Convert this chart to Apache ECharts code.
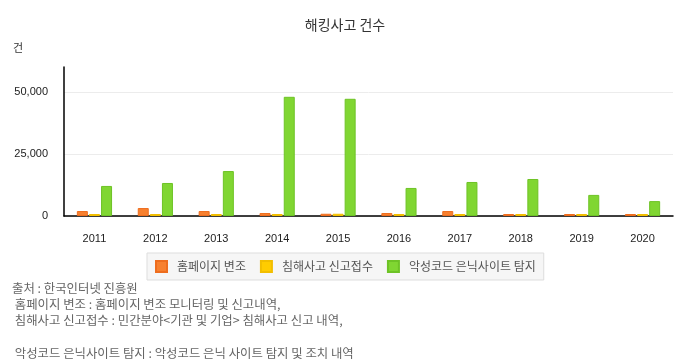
<!DOCTYPE html>
<html><head><meta charset="utf-8">
<script src="https://cdn.jsdelivr.net/npm/echarts@6/dist/echarts.min.js"></script>
<style>html,body{margin:0;padding:0;background:#fff}#c{width:690px;height:360px}</style>
</head><body><div id="c"></div>
<script>
const categories = ['2011','2012','2013','2014','2015','2016','2017','2018','2019','2020'];
const seriesNames = ['홈페이지 변조','침해사고 신고접수','악성코드 은닉사이트 탐지'];
const defacement = [2000, 3200, 2000, 1200, 900, 1200, 2000, 800, 800, 800];
const incidents = [800, 800, 800, 800, 900, 800, 800, 800, 800, 800];
const malware = [12100, 13300, 18100, 48000, 47200, 11300, 13700, 14900, 8500, 6000];
const yTicks = [0, 25000, 50000];
const footLines = ['출처 : 한국인터넷 진흥원',' 홈페이지 변조 : 홈페이지 변조 모니터링 및 신고내역,',' 침해사고 신고접수 : 민간분야<기관 및 기업> 침해사고 신고 내역,','',' 악성코드 은닉사이트 탐지 : 악성코드 은닉 사이트 탐지 및 조치 내역'];

const FONT = '"Noto Sans CJK KR", "Noto Sans", sans-serif';
const chart = echarts.init(document.getElementById('c'));
const colors = [['#f7802f','#ee6d1e'],['#ffcc00','#f2be00'],['#80d632','#6ec326']];
const data = [defacement, incidents, malware];
chart.setOption({
  animation:false,
  textStyle:{fontFamily:FONT},
  title:{text:'해킹사고 건수',left:'center',top:13,textStyle:{fontSize:14,fontWeight:'normal',color:'#333',fontFamily:FONT}},
  grid:{left:64,right:17,top:67,bottom:144},
  legend:{bottom:80,left:147,itemWidth:11,itemHeight:11,itemGap:14,padding:[7,8,7,8],
    backgroundColor:'#f6f6f6',borderColor:'#dddddd',borderWidth:1,
    icon:'rect',
    textStyle:{fontSize:12,color:'#555',fontFamily:FONT,padding:[0,0,0,5]},
    data:seriesNames},
  xAxis:{type:'category',data:categories,
    axisLine:{lineStyle:{color:'#000',width:1.5}},axisTick:{show:false},
    axisLabel:{color:'#222',fontSize:11,margin:17,fontFamily:'Arial, "Liberation Sans", sans-serif'}},
  yAxis:{type:'value',min:0,max:60000,interval:25000,name:'건',
    nameLocation:'end',nameGap:14,nameTextStyle:{color:'#333',fontSize:11,align:'right',padding:[0,41,0,0]},
    axisLine:{show:true,lineStyle:{color:'#000',width:1.5}},axisTick:{show:false},
    splitLine:{show:true,showMaxLine:false,lineStyle:{color:'#ececec'}},
    axisLabel:{showMaxLabel:false,color:'#222',fontSize:11,margin:16,fontFamily:'Arial, "Liberation Sans", sans-serif',
      formatter:v=>yTicks.includes(v)?v.toLocaleString('en-US'):''}},
  series:seriesNames.map((n,i)=>({name:n,type:'bar',data:data[i],barWidth:11,barGap:'10%',
    itemStyle:{color:colors[i][0],borderColor:colors[i][1],borderWidth:1}})),
  graphic:footLines.map((t,i)=>({type:'text',left:12,top:282+i*16.3,
    style:{text:t,fill:'#666',font:'12.4px '+FONT}}))
});
</script></body></html>
